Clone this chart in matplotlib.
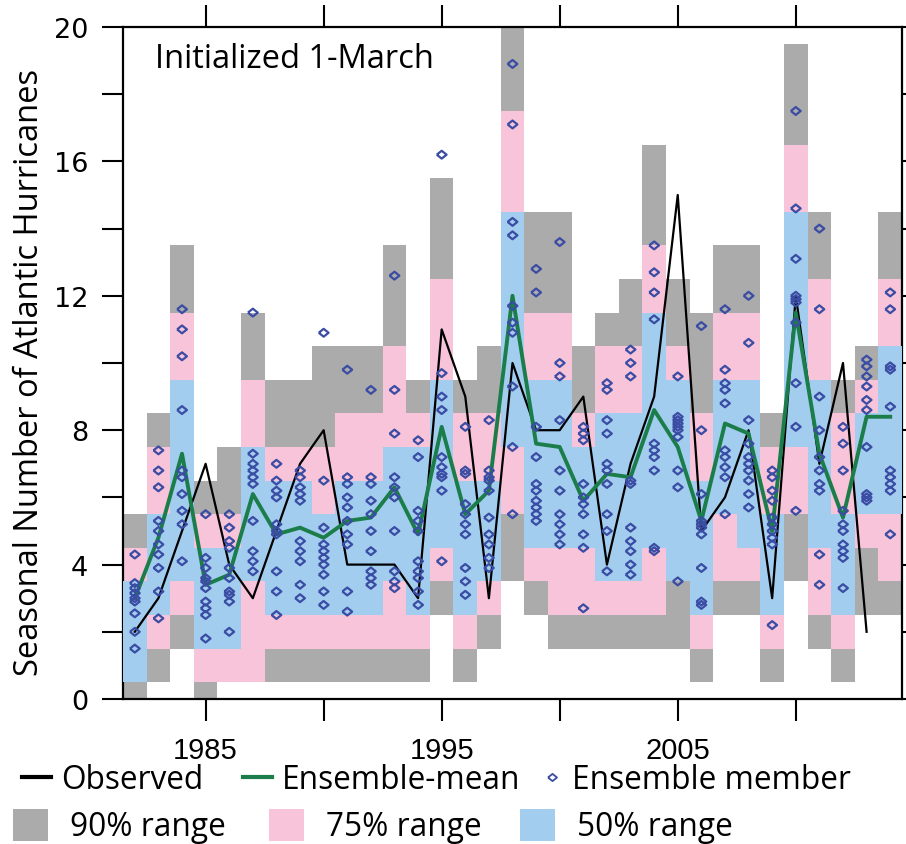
import numpy as np
import matplotlib
matplotlib.use("Agg")
import matplotlib.pyplot as plt
from matplotlib.lines import Line2D
from matplotlib.patches import Patch

# ---------------------------------------------------------------- data
years = np.arange(1982, 2015)
obs_years = np.arange(1982, 2014)

observed = [2, 3, 5, 7, 4, 3, 5, 7, 8, 4, 4, 4, 3, 11, 9, 3, 10, 8, 8, 9,
            4, 7, 9, 15, 5, 6, 8, 3, 12, 7, 10, 2]

ens_mean = [3.0, 4.8, 7.3, 3.4, 3.7, 6.1, 4.9, 5.1, 4.8, 5.3, 5.4, 6.3, 4.9,
            8.1, 5.5, 6.2, 12.0, 7.6, 7.5, 5.9, 6.7, 6.6, 8.6, 7.5, 5.3, 8.2,
            7.9, 5.0, 11.5, 7.3, 5.4, 8.4, 8.4]

# percentile ranges of the ensemble counts (lowest / highest count in range)
p90_lo = [0, 1, 2, 0, 1, 1, 1, 1, 1, 1, 1, 1, 1, 3, 1, 2, 4, 3, 2, 2,
          2, 2, 2, 2, 1, 3, 3, 1, 4, 2, 1, 3, 3]
p90_hi = [5, 8, 13, 6, 7, 11, 9, 9, 10, 10, 10, 13, 9, 15, 9, 10, 20, 14, 14, 10,
          11, 12, 16, 12, 11, 13, 13, 8, 19, 14, 9, 10, 14]
p75_lo = [1, 2, 3, 1, 1, 1, 2, 2, 2, 2, 2, 2, 2, 4, 2, 3, 6, 4, 3, 3,
          3, 3, 3, 4, 2, 4, 4, 2, 6, 3, 2, 5, 4]
p75_hi = [4, 7, 11, 5, 5, 9, 7, 7, 7, 8, 8, 10, 8, 12, 8, 8, 17, 11, 11, 8,
          10, 10, 13, 10, 8, 11, 11, 7, 16, 12, 8, 9, 12]
p50_lo = [1, 3, 4, 2, 2, 4, 3, 3, 3, 3, 3, 4, 3, 5, 3, 4, 8, 5, 5, 5,
          4, 4, 5, 4, 3, 6, 5, 3, 8, 5, 3, 6, 6]
p50_hi = [3, 5, 9, 4, 4, 7, 6, 6, 5, 6, 6, 7, 7, 9, 6, 6, 14, 9, 9, 7,
          8, 8, 11, 9, 6, 9, 9, 5, 14, 9, 5, 8, 10]

members = [
    [4.3, 3.45, 3.3, 3.15, 3.0, 2.9, 2.55, 2.0, 1.5],            # 1982
    [7.4, 6.8, 6.3, 5.3, 5.0, 4.6, 4.3, 3.9, 3.2, 2.4],          # 1983
    [11.6, 11.0, 10.2, 8.6, 6.8, 6.6, 6.1, 5.6, 5.2, 4.1],       # 1984
    [5.5, 4.2, 3.9, 3.6, 3.5, 3.3, 2.9, 2.7, 2.5, 1.8],          # 1985
    [5.5, 5.1, 4.7, 4.5, 3.9, 3.6, 3.2, 3.1, 2.9, 2.0],          # 1986
    [11.5, 7.3, 7.0, 6.8, 6.6, 6.4, 5.3, 4.4, 4.1, 3.8],         # 1987
    [7.0, 6.5, 6.2, 6.0, 5.2, 5.0, 4.9, 3.8, 3.2, 2.5],          # 1988
    [6.8, 6.6, 6.3, 6.1, 5.9, 4.7, 4.4, 4.1, 3.4, 3.0],          # 1989
    [10.9, 6.5, 5.1, 4.6, 4.4, 4.2, 4.0, 3.7, 3.2, 2.8],         # 1990
    [9.8, 6.6, 6.4, 6.0, 5.7, 5.3, 4.9, 4.6, 3.2, 2.6],          # 1991
    [9.2, 6.6, 6.4, 5.9, 5.5, 5.0, 4.4, 3.8, 3.6, 3.4],          # 1992
    [12.6, 9.2, 7.9, 6.6, 6.3, 6.0, 5.0, 3.8, 3.5, 3.3],         # 1993
    [7.7, 7.2, 5.6, 5.3, 5.0, 4.1, 3.8, 3.6, 3.2, 2.8],          # 1994
    [16.2, 9.7, 9.0, 8.6, 7.2, 6.9, 6.7, 6.6, 6.2, 4.1],         # 1995
    [8.1, 6.8, 6.7, 5.8, 5.5, 5.2, 4.9, 3.9, 3.5, 3.1],          # 1996
    [8.3, 6.8, 6.6, 6.5, 6.2, 5.4, 4.9, 4.6, 4.2, 3.9],          # 1997
    [18.9, 17.1, 14.2, 13.8, 11.7, 11.2, 10.9, 9.3, 7.5, 5.5],   # 1998
    [12.8, 12.1, 8.1, 7.2, 6.4, 6.2, 5.9, 5.7, 5.5, 5.3],        # 1999
    [13.6, 10.0, 9.6, 8.3, 6.8, 6.2, 5.5, 5.2, 4.9, 4.6],        # 2000
    [8.1, 7.9, 7.7, 6.4, 6.0, 5.8, 5.5, 4.9, 4.5, 2.7],          # 2001
    [9.4, 9.2, 8.3, 7.9, 7.0, 6.8, 6.4, 5.5, 5.0, 3.8],          # 2002
    [10.4, 10.0, 9.6, 6.5, 6.4, 5.1, 4.7, 4.4, 4.0, 3.7],        # 2003
    [13.5, 12.7, 12.1, 11.3, 7.6, 7.4, 7.2, 6.8, 4.5, 4.4],      # 2004
    [9.6, 8.4, 8.3, 8.2, 8.1, 8.0, 7.8, 6.8, 6.3, 3.5],          # 2005
    [11.1, 8.0, 6.1, 5.3, 5.2, 5.1, 4.9, 3.9, 2.9, 2.8],         # 2006
    [11.6, 9.8, 9.4, 9.2, 8.8, 7.4, 7.2, 6.9, 6.6, 5.5],         # 2007
    [12.0, 10.6, 8.3, 7.6, 7.2, 7.0, 6.8, 6.5, 6.1, 5.7],        # 2008
    [6.8, 6.6, 6.2, 5.9, 5.4, 5.2, 5.0, 4.8, 4.6, 2.2],          # 2009
    [17.5, 14.6, 13.1, 12.0, 11.9, 11.8, 11.2, 9.4, 8.1, 5.6],   # 2010
    [14.0, 11.6, 9.0, 8.0, 7.2, 6.8, 6.4, 6.2, 4.3, 3.4],        # 2011
    [8.1, 7.6, 6.8, 5.6, 5.2, 5.0, 4.6, 4.4, 4.2, 3.3],          # 2012
    [10.1, 9.9, 9.6, 9.3, 8.9, 8.6, 7.5, 6.1, 6.0, 5.9],         # 2013
    [12.1, 11.6, 9.9, 9.8, 8.7, 6.8, 6.6, 6.4, 6.2, 4.9],        # 2014
]

xtick_years = [1985, 1990, 1995, 2000, 2005, 2010]
xtick_labels = ["1985", "", "1995", "", "2005", ""]
ytick_vals = list(range(0, 21, 2))
ytick_labels = [str(v) if v % 4 == 0 else "" for v in ytick_vals]

# ---------------------------------------------------------------- style
GRAY = "#ababab"
PINK = "#f8c4d9"
BLUE = "#a2cdef"
GREEN = "#1b7d49"
DIAMOND = "#3a4ca3"
TEXT_FONT = ["Open Sans", "DejaVu Sans"]

W, H = 906, 845
fig = plt.figure(figsize=(W / 100, H / 100), dpi=100)
ax = fig.add_axes([123 / W, (H - 700) / H, 779 / W, 672 / H])

yrs = np.asarray(years)
for lo, hi, col, z in [(p90_lo, p90_hi, GRAY, 1),
                       (p75_lo, p75_hi, PINK, 2),
                       (p50_lo, p50_hi, BLUE, 3)]:
    lo = np.asarray(lo, float)
    hi = np.asarray(hi, float)
    ax.bar(yrs, hi - lo + 1.0, bottom=lo - 0.5, width=1.0,
           color=col, edgecolor="none", linewidth=0, zorder=z)

ax.plot(obs_years, observed, color="black", lw=1.6, zorder=4)
ax.plot(years, ens_mean, color=GREEN, lw=2.8, zorder=5)

diamond = [(-1.0, 0.0), (0.0, 0.8), (1.0, 0.0), (0.0, -0.8), (-1.0, 0.0)]
mx = np.concatenate([[y] * len(m) for y, m in zip(years, members)])
my = np.concatenate(members)
ax.scatter(mx, my, s=50, marker=diamond, facecolors="none",
           edgecolors=DIAMOND, linewidths=1.6, zorder=6)

ax.set_xlim(1981.5, 2014.5)
ax.set_ylim(0, 20)

ax.set_xticks(xtick_years)
ax.set_xticklabels(xtick_labels, fontfamily="Liberation Sans", fontsize=21)
ax.set_yticks(ytick_vals)
ax.set_yticklabels(ytick_labels, fontfamily="DejaVu Sans", fontsize=19.5)
ax.tick_params(axis="x", direction="out", length=16, width=1.5,
               top=True, pad=11, colors="black")
ax.tick_params(axis="y", direction="out", length=15, width=1.5,
               right=True, pad=10, colors="black")
for sp in ax.spines.values():
    sp.set_linewidth(1.6)
    sp.set_color("black")

ax.text(0.041, 0.953, "Initialized 1-March", transform=ax.transAxes,
        fontsize=23.5, fontfamily=TEXT_FONT, ha="left", va="center")

fig.text(30 / W, 1 - 372 / H, "Seasonal Number of Atlantic Hurricanes",
         rotation=90, fontsize=23.5, fontfamily=TEXT_FONT,
         ha="center", va="center")

# ---------------------------------------------------------------- legend
fs = 22.8
row1_y = 1 - 781 / H
row2_y = 1 - 827 / H
row1 = [
    (Line2D([], [], color="black", lw=3), "Observed", 22, 0.92, 0.32),
    (Line2D([], [], color=GREEN, lw=3), "Ensemble-mean", 243, 0.92, 0.32),
    (Line2D([], [], ls="none", marker=diamond, ms=6.5, mfc="none",
            mec=DIAMOND, mew=1.3), "Ensemble member", 543, 0.58, 0.34),
]
row2 = [
    (Patch(facecolor=GRAY, edgecolor="none"), "90% range", 13),
    (Patch(facecolor=PINK, edgecolor="none"), "75% range", 269),
    (Patch(facecolor=BLUE, edgecolor="none"), "50% range", 520),
]
for h, lab, x0, hl, tp in row1:
    fig.legend(handles=[h], labels=[lab], loc="center left",
               bbox_to_anchor=(x0 / W, row1_y), frameon=False,
               borderpad=0, borderaxespad=0, handlelength=hl,
               handletextpad=tp, prop={"family": TEXT_FONT, "size": fs})
for h, lab, x0 in row2:
    fig.legend(handles=[h], labels=[lab], loc="center left",
               bbox_to_anchor=(x0 / W, row2_y), frameon=False,
               borderpad=0, borderaxespad=0, handlelength=1.1,
               handleheight=1.2, handletextpad=0.7,
               prop={"family": TEXT_FONT, "size": fs})

fig.savefig("out.png", dpi=100)
